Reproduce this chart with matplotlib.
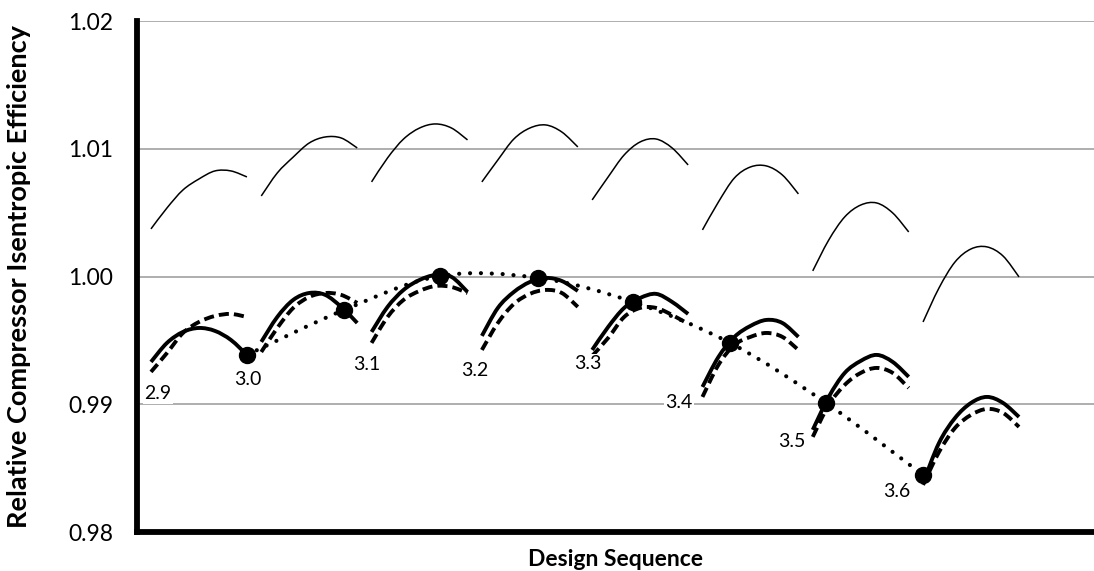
import numpy as np
import matplotlib
matplotlib.use("Agg")
import matplotlib.pyplot as plt
from matplotlib.path import Path
from matplotlib.patches import PathPatch

plt.rcParams['font.family'] = ['Lato', 'DejaVu Sans']

# design sequence labels, one group of curves per design
designs = ['2.9', '3.0', '3.1', '3.2', '3.3', '3.4', '3.5', '3.6']
group_x = np.arange(8)
local_x = np.array([0.0, 0.145, 0.29, 0.435, 0.58, 0.725, 0.87])

# upper thin curves
thin = [
    [1.00374, 1.00538, 1.00679, 1.00765, 1.00828, 1.00828, 1.00781],
    [1.00632, 1.00812, 1.00937, 1.01047, 1.01094, 1.01086, 1.01008],
    [1.00742, 1.00930, 1.01078, 1.01164, 1.01196, 1.01164, 1.01071],
    [1.00742, 1.00914, 1.01078, 1.01164, 1.01188, 1.01133, 1.01016],
    [1.00601, 1.00781, 1.00953, 1.01055, 1.01078, 1.01008, 1.00875],
    [1.00366, 1.00585, 1.00773, 1.00859, 1.00867, 1.00796, 1.00648],
    [1.00045, 1.00287, 1.00468, 1.00561, 1.00577, 1.00499, 1.00350],
    [0.99645, 0.99912, 1.00115, 1.00217, 1.00233, 1.00162, 0.99998],
]

# thick solid curves
solid = [
    [0.99332, 0.99481, 0.99567, 0.99598, 0.99575, 0.99504, 0.99387],
    [0.99489, 0.99684, 0.99818, 0.99872, 0.99857, 0.99763, 0.99637],
    [0.99567, 0.99763, 0.99896, 0.99974, 1.00013, 0.99998, 0.99880],
    [0.99536, 0.99755, 0.99880, 0.99958, 0.99990, 0.99966, 0.99888],
    [0.99426, 0.99606, 0.99755, 0.99833, 0.99865, 0.99802, 0.99708],
    [0.99136, 0.99371, 0.99528, 0.99614, 0.99661, 0.99637, 0.99528],
    [0.98800, 0.99058, 0.99246, 0.99340, 0.99387, 0.99332, 0.99215],
    [0.98384, 0.98698, 0.98893, 0.99011, 0.99058, 0.99011, 0.98901],
]

# thick dashed curves
dashed = [
    [0.99254, 0.99402, 0.99559, 0.99645, 0.99692, 0.99708, 0.99684],
    [0.99410, 0.99598, 0.99755, 0.99841, 0.99872, 0.99857, 0.99794],
    [0.99481, 0.99684, 0.99818, 0.99888, 0.99927, 0.99919, 0.99872],
    [0.99426, 0.99637, 0.99786, 0.99865, 0.99896, 0.99872, 0.99763],
    [0.99379, 0.99520, 0.99684, 0.99755, 0.99755, 0.99700, 0.99630],
    [0.99058, 0.99309, 0.99465, 0.99528, 0.99559, 0.99528, 0.99426],
    [0.98745, 0.98995, 0.99152, 0.99246, 0.99285, 0.99246, 0.99128],
    [0.98369, 0.98627, 0.98815, 0.98917, 0.98964, 0.98933, 0.98823],
]

# optimum points joined by the dotted line
opt_x = [0.87, 1.75, 2.62, 3.51, 4.37, 5.25, 6.12, 7.00]
opt_y = [0.99387, 0.99739, 1.00005, 0.99990, 0.99802, 0.99481, 0.99011, 0.98447]

# where the design labels sit
label_x = [0.063, 0.879, 1.958, 2.937, 3.962, 4.787, 5.811, 6.763]
label_y = [0.99081, 0.99191, 0.99309, 0.99262, 0.99316, 0.99011, 0.98706, 0.98314]


def smooth(ax, x, y, **kw):
    # excel-style smoothed line: bezier segments through the points
    p = np.column_stack([x, y])
    q = np.vstack([p[0], p, p[-1]])
    verts = [p[0]]
    codes = [Path.MOVETO]
    for i in range(1, len(q) - 2):
        verts += [q[i] + (q[i + 1] - q[i - 1]) / 6,
                  q[i + 1] - (q[i + 2] - q[i]) / 6,
                  q[i + 1]]
        codes += [Path.CURVE4] * 3
    patch = PathPatch(Path(verts, codes), facecolor='none', edgecolor='black', **kw)
    ax.add_patch(patch)
    return patch


fig = plt.figure(figsize=(10.94, 5.71), dpi=100)
ax = fig.add_axes([0.1252, 0.0683, 0.8748, 0.8944])

for i in range(len(designs)):
    x = group_x[i] + local_x
    smooth(ax, x, thin[i], lw=1.1, zorder=3)
    smooth(ax, x, solid[i], lw=2.8, capstyle='butt', zorder=4)
    smooth(ax, x, dashed[i], lw=2.8, linestyle=(0, (2.6, 1.3)), zorder=4)

smooth(ax, opt_x, opt_y, lw=3, linestyle=(0, (0.01, 2.6)), capstyle='round', zorder=5)
ax.plot(opt_x, opt_y, 'o', color='black', ms=11.5, zorder=6)

for lab, lx, ly in zip(designs, label_x, label_y):
    ax.text(lx, ly, lab, fontsize=14, ha='center', va='center', zorder=7,
            bbox=dict(facecolor='white', edgecolor='none', pad=1))

ax.set_xlim(-0.127, 8.55)
ax.set_ylim(0.98, 1.02)
ax.set_yticks([0.98, 0.99, 1.00, 1.01, 1.02])
ax.set_yticklabels(['0.98', '0.99', '1.00', '1.01', '1.02'], fontsize=16.5)
ax.set_xticks([])
ax.tick_params(axis='y', length=0, pad=17)
ax.grid(axis='y', color='#999999', lw=1.1)
ax.set_axisbelow(True)

for s in ['top', 'right']:
    ax.spines[s].set_visible(False)
ax.spines['left'].set_linewidth(4.2)
ax.spines['bottom'].set_linewidth(4.2)

ax.set_ylabel('Relative Compressor Isentropic Efficiency', fontsize=19.5,
              fontweight='bold', labelpad=27)
ax.set_xlabel('Design Sequence', fontsize=16.5, fontweight='bold', labelpad=12)

fig.savefig('out.png', dpi=100)
